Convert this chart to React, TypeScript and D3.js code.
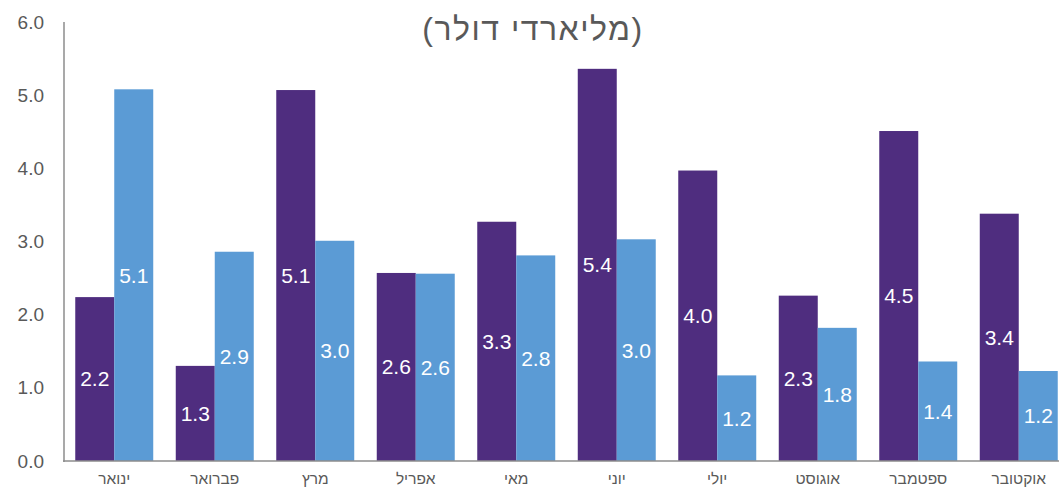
import React from "react";
import * as d3 from "d3";

const months = ["ינואר", "פברואר", "מרץ", "אפריל", "מאי", "יוני", "יולי", "אוגוסט", "ספטמבר", "אוקטובר"];
const seriesA = [2.24, 1.3, 5.07, 2.57, 3.27, 5.36, 3.97, 2.26, 4.51, 3.38];
const seriesB = [5.08, 2.86, 3.01, 2.56, 2.81, 3.03, 1.17, 1.82, 1.36, 1.23];
const yTicks = [0, 1, 2, 3, 4, 5, 6];
const titleText = "(מליארדי דולר)";

const W = 1059;
const H = 493;
const FONT = "'Liberation Sans', Arial, sans-serif";
const PURPLE = "#4F2D7F";
const BLUE = "#5B9BD5";
const GREY = "#595959";

export default function App() {
  const left = 64;
  const right = 1069;
  const top = 22;
  const bottom = 461;
  const x = d3.scaleBand<string>().domain(months).range([left, right]).paddingInner(0.224).paddingOuter(0.112);
  const inner = d3.scaleBand<string>().domain(["a", "b"]).range([0, x.bandwidth()]);
  const y = d3.scaleLinear().domain([0, 6]).range([bottom, top]);

  return (
    <svg width={W} height={H} style={{ position: "absolute", left: 0, top: 0, background: "#fff" }} fontFamily={FONT}>
      <text x={533} y={40} textAnchor="middle" fontSize={32} letterSpacing={1.5} fill={GREY} direction="rtl" style={{ unicodeBidi: "embed" } as any}>
        {titleText}
      </text>
      {yTicks.map((t) => (
        <text key={t} x={44} y={y(t)} dy="0.35em" textAnchor="end" fontSize={19} fill={GREY}>
          {t.toFixed(1)}
        </text>
      ))}
      {months.map((m, i) => {
        const x0 = x(m)!;
        const vals = [seriesA[i], seriesB[i]];
        return (
          <g key={m}>
            {vals.map((v, j) => {
              const bx = x0 + inner(j === 0 ? "a" : "b")!;
              const bw = inner.bandwidth();
              const yt = y(v);
              return (
                <g key={j}>
                  <rect x={bx} y={yt} width={bw} height={bottom - yt} fill={j === 0 ? PURPLE : BLUE} />
                  <text x={bx + bw / 2} y={(yt + bottom) / 2} dy="0.35em" textAnchor="middle" fontSize={21} fill="#fff">
                    {v.toFixed(1)}
                  </text>
                </g>
              );
            })}
            <text x={x0 + x.bandwidth() / 2} y={479} dy="0.35em" textAnchor="middle" fontSize={15.5} fill={GREY} direction="rtl">
              {m}
            </text>
          </g>
        );
      })}
      <line x1={64} x2={64} y1={top} y2={bottom + 1} stroke="#8c8c8c" strokeWidth={1.5} />
      <line x1={63} x2={W} y1={bottom} y2={bottom} stroke="#8c8c8c" strokeWidth={1.5} />
    </svg>
  );
}
